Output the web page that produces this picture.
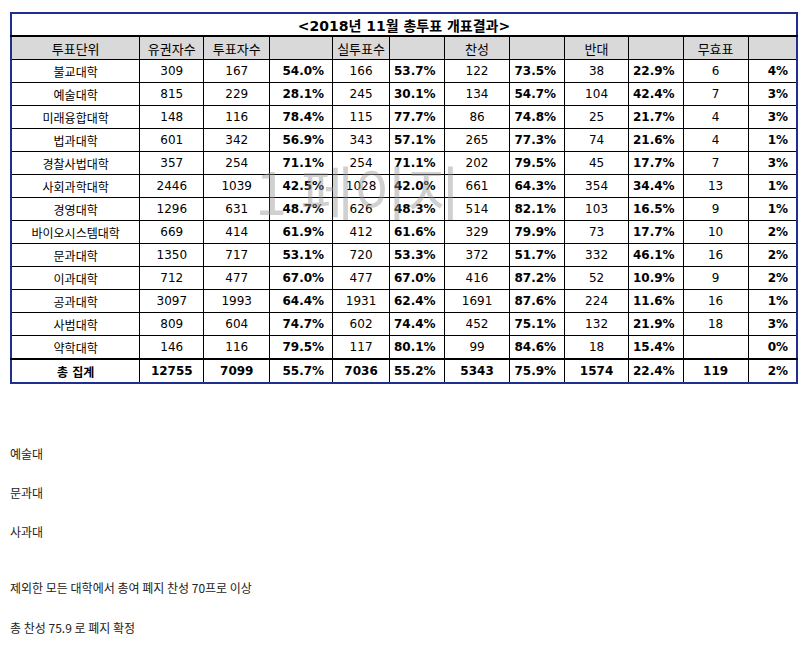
<!DOCTYPE html>
<html><head><meta charset="utf-8">
<script src="https://cdn.jsdelivr.net/npm/chart.js"></script>
<style>
body{margin:0;background:#fff;font-family:"Noto Sans CJK KR","Liberation Sans",sans-serif;}
#wrap{position:absolute;left:10px;top:12px;}
table{border-collapse:collapse;border:2px solid #1f2f8f;table-layout:fixed;font-family:"DejaVu Sans","Noto Sans CJK KR",sans-serif;font-size:12px;}
td{border:1px solid #000;height:22px;padding:0 4px;text-align:center;white-space:nowrap;overflow:hidden;}
td.p{font-weight:bold;text-align:right;padding-right:8px;}
tr.title td{font-weight:bold;font-size:14px;height:21px;border-bottom:2px solid #000;}
tr.head td{background:#d9d9d9;font-size:13px;height:22px;}
tr.tot td{font-weight:bold;border-top:2px solid #000;height:22px;}
#wm{position:absolute;left:255px;top:148px;font-size:58px;color:rgba(150,150,150,0.45);font-family:"Noto Sans CJK KR";}
.note{position:absolute;left:10px;font-size:12px;color:#222;}
</style></head><body>
<div id="wrap"><table id="t"></table></div>
<div id="wm">1 페이지</div>
<div class="note" style="top:445px">예술대</div>
<div class="note" style="top:484px">문과대</div>
<div class="note" style="top:523px">사과대</div>
<div class="note" style="top:579px">제외한 모든 대학에서 총여 폐지 찬성 70프로 이상</div>
<div class="note" style="top:619px">총 찬성 75.9 로 폐지 확정</div>
<script>
const title = '<2018년 11월 총투표 개표결과>';
const headers = ['투표단위','유권자수','투표자수','','실투표수','','찬성','','반대','','무효표',''];
const units = ['불교대학','예술대학','미래융합대학','법과대학','경찰사법대학','사회과학대학','경영대학','바이오시스템대학','문과대학','이과대학','공과대학','사범대학','약학대학'];
const electors = [309,815,148,601,357,2446,1296,669,1350,712,3097,809,146];
const voters = [167,229,116,342,254,1039,631,414,717,477,1993,604,116];
const turnout = ['54.0%','28.1%','78.4%','56.9%','71.1%','42.5%','48.7%','61.9%','53.1%','67.0%','64.4%','74.7%','79.5%'];
const valid = [166,245,115,343,254,1028,626,412,720,477,1931,602,117];
const validPct = ['53.7%','30.1%','77.7%','57.1%','71.1%','42.0%','48.3%','61.6%','53.3%','67.0%','62.4%','74.4%','80.1%'];
const yes = [122,134,86,265,202,661,514,329,372,416,1691,452,99];
const yesPct = ['73.5%','54.7%','74.8%','77.3%','79.5%','64.3%','82.1%','79.9%','51.7%','87.2%','87.6%','75.1%','84.6%'];
const no = [38,104,25,74,45,354,103,73,332,52,224,132,18];
const noPct = ['22.9%','42.4%','21.7%','21.6%','17.7%','34.4%','16.5%','17.7%','46.1%','10.9%','11.6%','21.9%','15.4%'];
const invalid = [6,7,4,4,7,13,9,10,16,9,16,18,''];
const invalidPct = ['4%','3%','3%','1%','3%','1%','1%','2%','2%','2%','1%','3%','0%'];
const total = ['총 집계',12755,7099,'55.7%',7036,'55.2%',5343,'75.9%',1574,'22.4%',119,'2%'];
const widths = [129,64,66,63,56,51,66,54,64,54,65,49];

const t = document.getElementById('t');
let cg = '<colgroup>' + widths.map(w => '<col style="width:' + w + 'px">').join('') + '</colgroup>';
let h = cg + '<tr class="title"><td colspan="12">' + title.replace(/</g,'&lt;').replace(/>/g,'&gt;') + '</td></tr>';
h += '<tr class="head">' + headers.map(x => '<td>' + x + '</td>').join('') + '</tr>';
units.forEach((u, i) => {
  const row = [u, electors[i], voters[i], turnout[i], valid[i], validPct[i], yes[i], yesPct[i], no[i], noPct[i], invalid[i], invalidPct[i]];
  h += '<tr>' + row.map((v, j) => '<td' + (j % 2 === 1 && j > 2 || j === 3 ? '' : '') + (j >= 3 && j % 2 === 1 ? ' class="p"' : '') + '>' + v + '</td>').join('') + '</tr>';
});
h += '<tr class="tot">' + total.map((v, j) => '<td' + (j >= 3 && j % 2 === 1 ? ' class="p"' : '') + '>' + v + '</td>').join('') + '</tr>';
t.innerHTML = h;
</script>
</body></html>
